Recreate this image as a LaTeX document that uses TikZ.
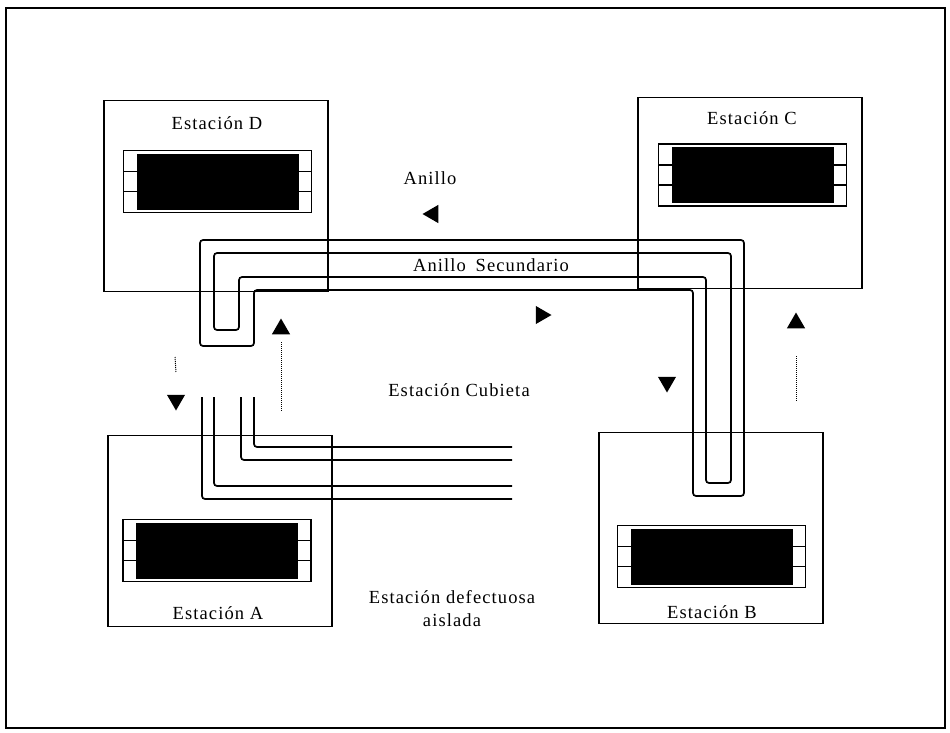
\documentclass[tikz,border=0pt]{standalone}
\usepackage{fontspec}
\setmainfont[LetterSpace=6]{Liberation Serif}
\usetikzlibrary{shapes.geometric, positioning}

\tikzset{
  stationbox/.style={rectangle, draw=black, line width=1.7pt, minimum width=224pt, minimum height=191pt, inner sep=0pt},
  panelbox/.style={rectangle, draw=black, line width=1.6pt, minimum width=188pt, minimum height=62pt, inner sep=0pt,
    path picture={
      \fill[black] ([xshift=13pt,yshift=3pt]path picture bounding box.south west)
        rectangle ([xshift=-13pt,yshift=-3pt]path picture bounding box.north east);
      \foreach \s in {-10pt,10pt}{
        \draw[line width=1.4pt] ([yshift=\s]path picture bounding box.west) -- ++(13pt,0);
        \draw[line width=1.4pt] ([yshift=\s]path picture bounding box.east) -- ++(-13pt,0);
      }
    }},
  labeltext/.style={font=\fontsize{18.5}{23}\selectfont, inner sep=1pt, align=center},
  tribase/.style={regular polygon, regular polygon sides=3, fill=black, draw=none, inner sep=0pt, minimum size=21pt},
  triup/.style={tribase},
  tridown/.style={tribase, shape border rotate=180},
  trileft/.style={tribase, shape border rotate=90},
  triright/.style={tribase, shape border rotate=-90},
  ringline/.style={line width=1.7pt, rounded corners=3pt},
  guide/.style={densely dotted, line width=1pt}
}

\begin{document}
\begin{tikzpicture}[x=1pt, y=-1pt]
  \useasboundingbox (0,0) rectangle (950,732);
  \draw[line width=1.5pt] (6,8) rectangle (945,728);

  % stations
  \node[stationbox] (sD) at (216,196) {};
  \node[stationbox] (sC) at (750,193) {};
  \node[stationbox] (sA) at (220,531) {};
  \node[stationbox] (sB) at (711,528) {};

  \node[panelbox] (pD) at (217.5,181.5) {};
  \node[panelbox] (pC) at (752.5,175) {};
  \node[panelbox] (pA) at (217,550.5) {};
  \node[panelbox] (pB) at (711.5,556.5) {};

  \node[labeltext] (tD) at (217,123) {Estación D};
  \node[labeltext] (tC) at (752,118) {Estación C};
  \node[labeltext] (tA) at (218,613) {Estación A};
  \node[labeltext] (tB) at (712,612) {Estación B};

  % ring, primary and secondary
  \draw[ringline] (200,240) -- (744,240) -- (744,496) -- (693,496) -- (693,290)
    -- (254,290) -- (254,346) -- (200,346) -- cycle;
  \draw[ringline] (214,253) -- (731,253) -- (731,483) -- (706,483) -- (706,277)
    -- (239,277) -- (239,330) -- (214,330) -- cycle;

  % lines to the wiring centre
  \draw[ringline] (202,397) -- (202,499) -- (512,499);
  \draw[ringline] (214,397) -- (214,486) -- (512,486);
  \draw[ringline] (241,397) -- (241,460) -- (512,460);
  \draw[ringline] (254,397) -- (254,447) -- (512,447);

  % direction marks
  \node[trileft]  (m1) at (433,214) {};
  \node[triright] (m2) at (541,315) {};
  \node[triup]    (m3) at (281,329) {};
  \node[tridown]  (m4) at (176,400) {};
  \node[tridown]  (m5) at (667,382) {};
  \node[triup]    (m6) at (796,323) {};

  \coordinate (g3) at (281,412);
  \coordinate (g4) at (175,357);
  \coordinate (g6) at (796,402);
  \draw[guide] ([yshift=-8pt]m3.south) -- (g3);
  \draw[guide] (g4) -- ([yshift=22pt]m4.north);
  \draw[guide] ([yshift=-28pt]m6.south) -- (g6);

  % texts
  \node[labeltext] (anillo) at (430,178) {Anillo};
  \node[labeltext] (secund) at (491,265) {Anillo\hspace{4pt} Secundario};
  \node[labeltext] (cubieta) at (459,390) {Estación Cubieta};
  \node[labeltext] (defect) at (452,609) {Estación defectuosa\\aislada};
\end{tikzpicture}
\end{document}
